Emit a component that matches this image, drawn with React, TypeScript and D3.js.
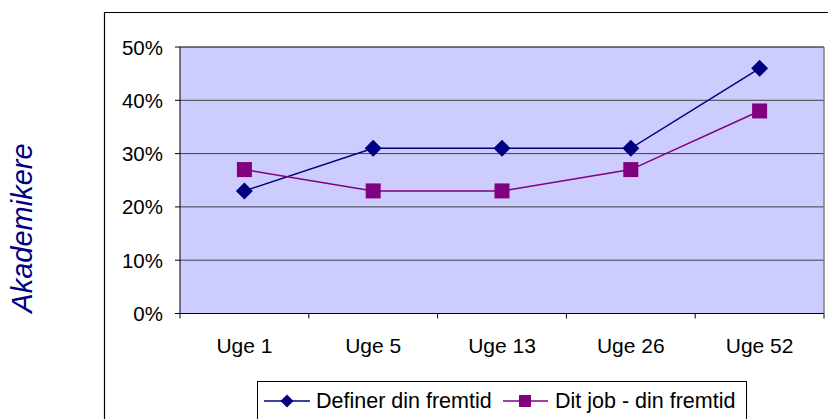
import React from "react";
import * as d3 from "d3";

const categories = ["Uge 1", "Uge 5", "Uge 13", "Uge 26", "Uge 52"];
const definerValues = [23, 31, 31, 31, 46];
const ditJobValues = [27, 23, 23, 27, 38];
const yTicks = [0, 10, 20, 30, 40, 50];
const seriesNames = ["Definer din fremtid", "Dit job - din fremtid"];
const yAxisTitle = "Akademikere";

const W = 828;
const H = 419;
const plot = { left: 180, right: 824, top: 47, bottom: 313.5 };
const FONT = "Arial, 'Liberation Sans', sans-serif";

export default function App() {
  const x = d3
    .scaleBand<string>()
    .domain(categories)
    .range([plot.left, plot.right]);
  const y = d3.scaleLinear().domain([0, 50]).range([plot.bottom, plot.top]);
  const cx = (c: string) => (x(c) as number) + x.bandwidth() / 2;

  const line = d3
    .line<number>()
    .x((_, i) => cx(categories[i]))
    .y((d) => y(d));

  const diamond = (px: number, py: number, r: number) =>
    `M${px},${py - r}L${px + r},${py}L${px},${py + r}L${px - r},${py}Z`;

  const boundaries = categories.map((c) => x(c) as number).slice(1);

  return (
    <svg
      width={W}
      height={H}
      style={{ position: "absolute", left: 0, top: 0, display: "block" }}
      fontFamily={FONT}
    >
      <rect x={0} y={0} width={W} height={H} fill="#ffffff" />
      {/* outer chart border */}
      <path d={`M104.5,${H + 5}V12.5H${W + 5}`} fill="none" stroke="#000" strokeWidth={1.2} />
      {/* plot background */}
      <rect
        x={plot.left}
        y={plot.top}
        width={plot.right - plot.left}
        height={plot.bottom - plot.top}
        fill="#CCCCFF"
      />
      {/* gridlines */}
      {yTicks.slice(1).map((t) => (
        <line
          key={t}
          x1={plot.left}
          x2={plot.right}
          y1={y(t)}
          y2={y(t)}
          stroke={t === 50 ? "#000" : "#404040"}
          strokeWidth={1}
        />
      ))}
      <line x1={plot.right} x2={plot.right} y1={plot.top} y2={plot.bottom} stroke="#808080" strokeWidth={1.5} />
      {/* axes */}
      <line x1={plot.left} x2={plot.left} y1={plot.top} y2={plot.bottom} stroke="#000" strokeWidth={1} />
      <line x1={plot.left} x2={plot.right} y1={plot.bottom} y2={plot.bottom} stroke="#000" strokeWidth={1} />
      {yTicks.map((t) => (
        <g key={t}>
          <line x1={plot.left - 5} x2={plot.left} y1={y(t)} y2={y(t)} stroke="#000" />
          <text
            x={163}
            y={y(t)}
            textAnchor="end"
            dominantBaseline="central"
            fontSize={20.5}
            fill="#000"
          >
            {t}%
          </text>
        </g>
      ))}
      {[plot.left, ...boundaries, plot.right].map((b, i) => (
        <line key={i} x1={b} x2={b} y1={plot.bottom} y2={plot.bottom + 5} stroke="#000" />
      ))}
      {categories.map((c) => (
        <text key={c} x={cx(c)} y={353} textAnchor="middle" fontSize={21} fill="#000">
          {c}
        </text>
      ))}
      {/* y axis title */}
      <text
        transform={`translate(32,228) rotate(-90)`}
        textAnchor="middle"
        fontSize={29}
        fontStyle="italic"
        fill="#000080"
      >
        {yAxisTitle}
      </text>
      {/* series */}
      <path d={line(definerValues) as string} fill="none" stroke="#000080" strokeWidth={1.5} />
      <path d={line(ditJobValues) as string} fill="none" stroke="#800080" strokeWidth={1.5} />
      {ditJobValues.map((v, i) => (
        <rect
          key={i}
          x={cx(categories[i]) - 7.5}
          y={y(v) - 7.5}
          width={15}
          height={15}
          fill="#800080"
        />
      ))}
      {definerValues.map((v, i) => (
        <path key={i} d={diamond(cx(categories[i]), y(v), 8.5)} fill="#000080" />
      ))}
      {/* legend */}
      <rect x={257.5} y={381.5} width={489} height={60} fill="#fff" stroke="#000" strokeWidth={1} />
      <line x1={264} x2={310} y1={401} y2={401} stroke="#000080" strokeWidth={1.5} />
      <path d={diamond(287, 401, 6.5)} fill="#000080" />
      <text x={316} y={401} dominantBaseline="central" fontSize={21.5} fill="#000">
        {seriesNames[0]}
      </text>
      <line x1={503} x2={548} y1={401} y2={401} stroke="#800080" strokeWidth={1.5} />
      <rect x={519} y={395} width={12} height={12} fill="#800080" />
      <text x={555} y={401} dominantBaseline="central" fontSize={21.5} fill="#000">
        {seriesNames[1]}
      </text>
    </svg>
  );
}
